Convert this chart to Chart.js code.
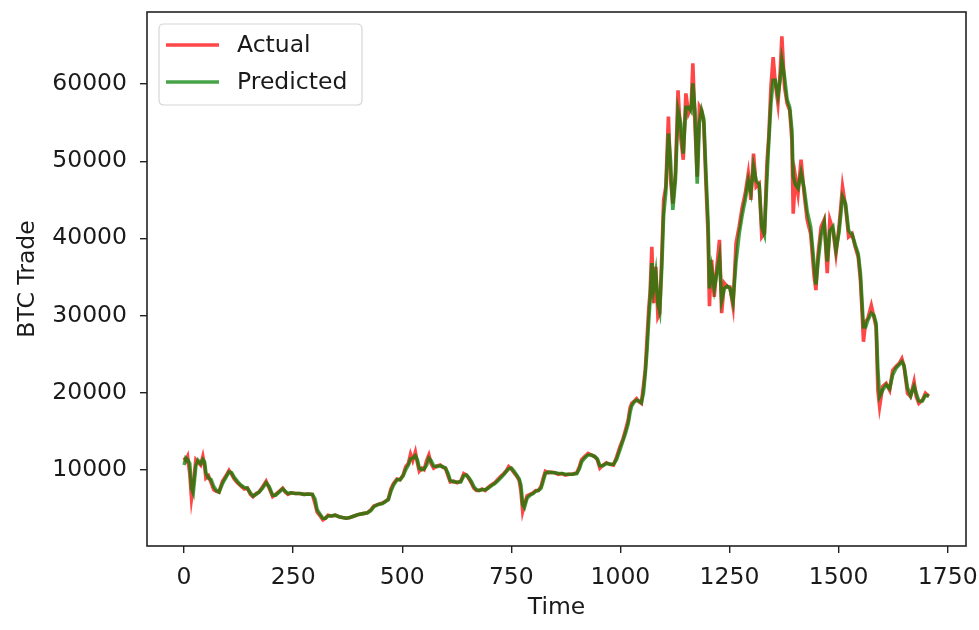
<!DOCTYPE html>
<html>
<head>
<meta charset="utf-8">
<script src="https://cdn.jsdelivr.net/npm/chart.js@4.4.1/dist/chart.umd.min.js"></script>
<style>
  html, body { margin: 0; padding: 0; background: #fff; }
  #wrap { width: 979px; height: 630px; position: relative; }
</style>
</head>
<body>
<div id="wrap"><canvas id="c"></canvas></div>
<script>
// ---- Data ----
const seriesNames = ["Actual", "Predicted"];
const xTickValues = [0, 250, 500, 750, 1000, 1250, 1500, 1750];
const yTickValues = [10000, 20000, 30000, 40000, 50000, 60000];
const xAxisTitle = "Time";
const yAxisTitle = "BTC Trade";

const time = [
  0,4,8,13,17,21,27,32,38,43,47,50,56,62,68,74,80,88,96,103,109,115,122,130,138,145,152,158,165,172,
  180,188,195,203,210,218,226,232,238,245,255,265,275,285,294,300,305,312,318,324,330,338,346,355,363,372,380,390,400,410,
  420,428,435,445,455,462,468,474,480,488,495,502,508,514,519,524,530,535,539,545,550,556,561,566,572,580,587,593,599,605,
  610,618,626,634,641,647,652,658,664,670,676,683,690,697,704,712,720,727,733,739,744,750,756,762,768,772,776,780,786,793,
  800,806,812,818,823,828,835,842,850,858,866,874,882,890,900,906,911,918,926,934,941,947,953,960,968,976,984,991,999,1006,
  1012,1018,1022,1026,1032,1037,1043,1048,1053,1057,1061,1065,1068,1072,1076,1081,1086,1090,1095,1099,1104,1110,1115,1120,1126,1132,1138,1144,1150,1156,
  1162,1166,1171,1176,1181,1186,1191,1196,1201,1204,1209,1215,1221,1227,1232,1238,1245,1251,1258,1265,1272,1279,1286,1293,1299,1305,1311,1318,1324,1330,
  1336,1340,1345,1350,1355,1361,1366,1370,1376,1382,1388,1393,1396,1401,1407,1414,1421,1428,1436,1444,1448,1453,1460,1467,1474,1480,1487,1494,1501,1509,
  1516,1523,1531,1538,1545,1550,1554,1557,1562,1567,1575,1581,1586,1590,1594,1601,1609,1617,1624,1632,1639,1645,1650,1658,1665,1673,1678,1684,1692,1699,
  1707
];

const actual = [
  11600,11200,11700,9500,6300,8000,11300,11000,10600,11700,10500,8900,9200,8300,7400,7200,7100,8500,9200,9900,9400,8800,8300,7900,7500,7600,6800,6500,6900,7100,
  7800,8500,7600,6500,6800,7200,7600,7100,6800,7000,6900,6900,6800,6850,6800,5600,4500,4000,3500,3700,4100,4000,4100,3900,3800,3700,3800,4000,4200,4300,
  4400,4800,5300,5500,5700,5900,6200,7500,8200,8800,8700,9300,10400,10800,12000,11200,12300,10800,9800,10200,10000,11200,11900,10800,10200,10500,10600,10300,10200,9200,
  8400,8500,8300,8500,9500,9300,8900,8300,7600,7300,7300,7500,7300,7700,8000,8300,8800,9200,9500,9900,10400,10100,9600,9200,8600,7200,4600,5500,6600,6800,
  7000,7300,7300,7800,8900,9800,9600,9700,9600,9400,9500,9300,9400,9400,9600,10400,11300,11700,12100,11900,11700,11300,10200,10600,10900,10700,10600,11600,13000,14000,
  15200,16500,18000,18600,18900,19200,18800,18600,21000,23000,27000,31000,33000,38900,31600,36300,29800,30300,38000,45000,46700,55800,47600,44500,48400,59200,53200,50200,58800,56200,
  57000,62700,54500,48000,57100,56600,55000,47100,40200,31200,37200,32400,36300,39800,30300,34200,33700,33700,31200,39400,41500,44000,45800,48400,45000,51000,46700,47100,40200,40700,
  50000,53200,59700,63500,60100,57500,61400,66200,59700,57500,56600,52700,43200,48000,45800,50200,45800,42400,40600,35000,33300,38000,41500,42400,35500,42400,41100,38000,41500,46700,
  44100,40200,40600,38900,37600,34600,30300,26600,29200,29600,31300,29800,28500,20300,18200,20800,21200,20300,22900,23400,23800,24400,23400,19900,19500,21400,19500,18600,19000,19900,
  19500
];

const predicted = [
  10600,11500,11300,10800,7600,7000,10500,11200,10800,11300,11000,9600,8900,8700,7800,7300,7100,8200,9000,9700,9600,9000,8500,8000,7700,7600,7000,6600,6800,7100,
  7600,8300,7800,6700,6700,7100,7500,7200,6900,7000,6900,6900,6800,6850,6800,6200,4800,4200,3700,3700,4000,4000,4100,3900,3800,3700,3800,4000,4200,4300,
  4400,4700,5200,5500,5600,5900,6100,7200,8000,8700,8700,9200,10000,10600,11400,11500,11800,11200,10200,10000,10100,10600,11500,11200,10500,10400,10500,10400,10200,9500,
  8600,8400,8400,8400,9200,9300,9000,8500,7800,7400,7300,7400,7400,7600,7900,8200,8600,9000,9400,9800,10100,10200,9800,9300,8800,8000,5500,5100,6300,6700,
  6900,7200,7300,7600,8500,9500,9700,9600,9600,9500,9500,9400,9400,9400,9500,10100,11000,11500,11900,11900,11700,11400,10500,10500,10800,10700,10700,11300,12600,13800,
  14800,16000,17400,18300,18800,19000,18900,18700,20000,22500,25500,29500,32000,36800,33500,35500,31500,30500,36500,43000,46000,53600,50000,43700,47500,56600,55000,51000,57000,57000,
  56500,60100,56500,47100,55000,56600,55500,48500,42000,33500,36000,33500,35500,37500,32000,33500,33800,33500,31800,37000,40500,43000,45000,47500,46000,49300,47500,47000,41500,40500,
  48000,52500,57500,60500,60500,58500,60500,63100,61000,58000,57000,54000,48000,47000,46500,48500,46500,43500,41500,36500,34000,37000,40500,42000,37000,41000,41500,38500,40800,45400,
  44500,41000,40500,39200,38000,35500,31500,28500,28500,29400,30300,30000,29000,23000,19500,20300,21000,20500,22300,23200,23600,24000,23500,20600,19600,20800,19900,18900,18900,19600,
  19600
];

const seriesColors = ["rgba(255,0,0,0.72)", "rgba(0,128,0,0.72)"];

// ---- Chart ----
const FONT = "'DejaVu Sans', sans-serif";
const TEXT = "#1a1a1a";
const FS = 23.5;

const frameAndLegend = {
  id: "frameAndLegend",
  afterDraw(chart) {
    const ctx = chart.ctx;
    const a = chart.chartArea;
    ctx.save();
    // axes frame
    ctx.strokeStyle = "#222";
    ctx.lineWidth = 1.6;
    ctx.strokeRect(a.left, a.top, a.right - a.left, a.bottom - a.top);
    // legend box
    const lx = a.left + 12, ly = a.top + 12, lw = 203, lh = 81, r = 5;
    ctx.beginPath();
    ctx.moveTo(lx + r, ly);
    ctx.lineTo(lx + lw - r, ly);
    ctx.quadraticCurveTo(lx + lw, ly, lx + lw, ly + r);
    ctx.lineTo(lx + lw, ly + lh - r);
    ctx.quadraticCurveTo(lx + lw, ly + lh, lx + lw - r, ly + lh);
    ctx.lineTo(lx + r, ly + lh);
    ctx.quadraticCurveTo(lx, ly + lh, lx, ly + lh - r);
    ctx.lineTo(lx, ly + r);
    ctx.quadraticCurveTo(lx, ly, lx + r, ly);
    ctx.closePath();
    ctx.fillStyle = "rgba(255,255,255,0.8)";
    ctx.fill();
    ctx.strokeStyle = "#d6d6d6";
    ctx.lineWidth = 1.2;
    ctx.stroke();
    ctx.font = FS + "px " + FONT;
    ctx.textBaseline = "middle";
    ctx.textAlign = "left";
    chart.data.datasets.forEach((ds, i) => {
      const y = ly + 21 + i * 37;
      ctx.strokeStyle = ds.borderColor;
      ctx.lineWidth = 3.4;
      ctx.beginPath();
      ctx.moveTo(lx + 7, y);
      ctx.lineTo(lx + 60, y);
      ctx.stroke();
      ctx.fillStyle = TEXT;
      ctx.fillText(ds.label, lx + 78, y + 1);
    });
    ctx.restore();
  }
};

new Chart(document.getElementById("c"), {
  type: "line",
  data: {
    datasets: [
      {
        label: seriesNames[0],
        data: time.map((t, i) => ({ x: t, y: actual[i] })),
        borderColor: seriesColors[0],
        borderWidth: 3.6,
        pointRadius: 0,
        tension: 0,
        order: 2
      },
      {
        label: seriesNames[1],
        data: time.map((t, i) => ({ x: t, y: predicted[i] })),
        borderColor: seriesColors[1],
        borderWidth: 3.6,
        pointRadius: 0,
        tension: 0,
        order: 1
      }
    ]
  },
  options: {
    responsive: true,
    maintainAspectRatio: false,
    animation: false,
    layout: { padding: { left: 0, top: 12, right: 13, bottom: 0 } },
    plugins: {
      legend: { display: false },
      tooltip: { enabled: false }
    },
    scales: {
      x: {
        type: "linear",
        min: -85,
        max: 1792,
        afterBuildTicks: s => { s.ticks = xTickValues.map(v => ({ value: v })); },
        afterFit: s => { s.height = 84; s.paddingLeft = 0; s.paddingRight = 0; },
        grid: { display: true, drawOnChartArea: false, drawTicks: true, tickLength: 7, color: "#222", lineWidth: 1.4 },
        border: { display: false },
        ticks: {
          color: TEXT, font: { family: FONT, size: FS }, padding: 11,
          maxRotation: 0, autoSkip: false,
          callback: v => String(v)
        },
        title: { display: true, text: xAxisTitle, color: TEXT, font: { family: FONT, size: FS }, padding: { top: 0, bottom: 8 } }
      },
      y: {
        type: "linear",
        min: 100,
        max: 69360,
        afterBuildTicks: s => { s.ticks = yTickValues.map(v => ({ value: v })); },
        afterFit: s => { s.width = 147; s.paddingTop = 0; s.paddingBottom = 0; },
        grid: { display: true, drawOnChartArea: false, drawTicks: true, tickLength: 7, color: "#222", lineWidth: 1.4 },
        border: { display: false },
        ticks: {
          color: TEXT, font: { family: FONT, size: FS }, padding: 13,
          autoSkip: false,
          callback: v => String(v)
        },
        title: { display: true, text: yAxisTitle, color: TEXT, font: { family: FONT, size: FS }, padding: { top: 14, bottom: 0 } }
      }
    }
  },
  plugins: [frameAndLegend]
});
</script>
</body>
</html>
